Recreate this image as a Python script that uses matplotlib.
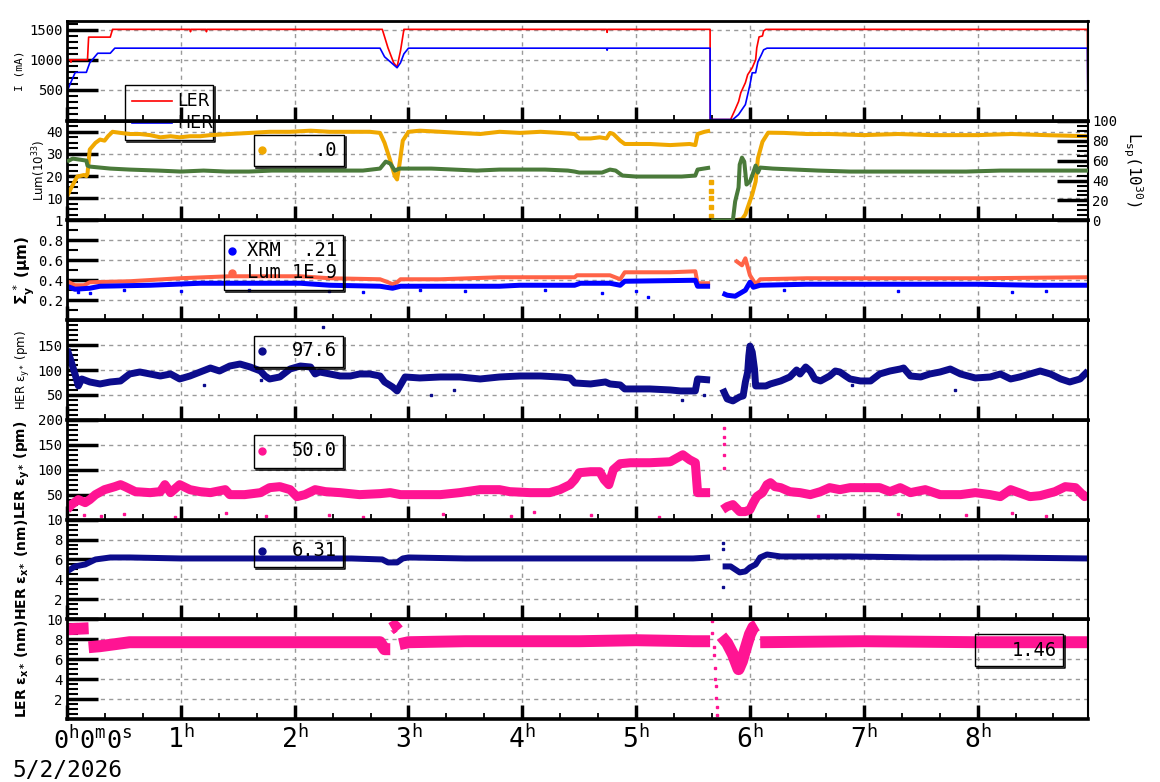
import numpy as np
import matplotlib
matplotlib.use('Agg')
import matplotlib.pyplot as plt
from matplotlib.ticker import MultipleLocator, FixedLocator
from matplotlib.patches import Rectangle
from matplotlib.lines import Line2D

plt.rcParams['mathtext.fontset'] = 'custom'
plt.rcParams['mathtext.rm'] = 'DejaVu Sans Mono'
plt.rcParams['mathtext.it'] = 'DejaVu Sans Mono:italic'
plt.rcParams['mathtext.bf'] = 'DejaVu Sans:bold'
plt.rcParams['mathtext.sf'] = 'DejaVu Sans'
MONO = 'DejaVu Sans Mono'
SANS = 'DejaVu Sans'
nan = np.nan

# ---------------- data ----------------
hours = [0, 1, 2, 3, 4, 5, 6, 7, 8]
hour_labels = ['', r'$1^{\mathrm{h}}$', r'$2^{\mathrm{h}}$', r'$3^{\mathrm{h}}$', r'$4^{\mathrm{h}}$',
               r'$5^{\mathrm{h}}$', r'$6^{\mathrm{h}}$', r'$7^{\mathrm{h}}$', r'$8^{\mathrm{h}}$']
first_label = r'$0^{\mathrm{h}}0^{\mathrm{m}}0^{\mathrm{s}}$'
date_text = '5/2/2026'

# panel 1 : beam currents (mA)
t_ler_I = [0, 0.03, 0.035, 0.04, 0.18, 0.19, 0.38, 0.40, 1.08, 1.085, 1.09, 1.22, 1.225, 1.23,
           2.77, 2.82, 2.87, 2.90, 2.93, 2.96, 4.74, 4.745, 4.75, 5.65, 5.651, 5.83, 5.87, 5.90,
           5.92, 5.96, 5.98, 6.02, 6.05, 6.06, 6.08, 6.11, 6.12, 6.14, 8.965, 8.97]
v_ler_I = [1000, 1000, 960, 1000, 1000, 1380, 1380, 1510, 1510, 1470, 1510, 1510, 1470, 1510,
           1510, 1200, 950, 880, 1150, 1510, 1510, 1460, 1510, 1510, 0, 0, 167, 300,
           450, 617, 750, 867, 1000, 1200, 1383, 1400, 1483, 1510, 1510, 0]
t_her_I = [0, 0.02, 0.07, 0.08, 0.17, 0.20, 0.27, 0.38, 0.42, 2.75, 2.79, 2.84, 2.90, 2.93, 2.96,
           3.00, 4.74, 4.745, 4.75, 5.65, 5.651, 5.85, 5.90, 5.93, 5.96, 5.98, 6.00, 6.02, 6.05,
           6.07, 6.10, 6.12, 6.15, 8.965, 8.97]
v_her_I = [470, 560, 780, 790, 790, 950, 1110, 1110, 1195, 1195, 1050, 967, 867, 950, 1100,
           1195, 1195, 1160, 1195, 1195, 0, 0, 83, 167, 250, 417, 583, 783, 783,
           967, 1083, 1167, 1195, 1195, 0]

# panel 2 : luminosity (1e33) left, specific luminosity (1e30) right
t_lum = [0, 0.04, 0.09, 0.15, 0.17, 0.18, 0.20, 0.25, 0.29, 0.33,
         0.36, 0.40, 0.47, 0.55, 0.64, 0.73, 0.82, 0.91, 0.99, 1.08,
         1.17, 1.26, 1.43, 1.61, 1.78, 1.96, 2.14, 2.31, 2.49, 2.66,
         2.75, 2.79, 2.84, 2.88, 2.90, 2.92, 2.95, 3.00, 3.10, 3.28,
         3.45, 3.63, 3.80, 3.98, 4.16, 4.33, 4.46, 4.50, 4.60, 4.68,
         4.74, 4.77, 4.80, 4.86, 4.90, 5.12, 5.30, 5.47, 5.52, 5.54,
         5.60, 5.65, nan, 5.85, 5.93, 5.96, 5.98, 6.02, 6.05, 6.07,
         6.11, 6.16, 6.30, 6.50, 6.70, 7.00, 7.30, 7.60, 8.00, 8.30,
         8.60, 8.97]
v_lum = [10.8, 15, 19.8, 20.5, 20, 21, 32, 35, 36.5, 36,
         38, 40, 39.5, 39, 39, 38.5, 37.5, 38, 37.5, 38,
         38, 38.5, 39, 39.5, 40, 40, 40.5, 40, 40, 40,
         39.5, 35, 27, 20, 18.5, 25, 36, 40, 40.5, 40,
         39.5, 39, 40, 39.5, 40, 39.5, 39, 37, 37, 37.5,
         37, 39.5, 39, 36, 34.5, 34.5, 34, 34.5, 34, 39,
         40, 40.5, nan, 0, 0.5, 2.7, 5.8, 11.7, 17.5, 28,
         35.5, 39.6, 39.5, 39, 39, 38.5, 39, 38.5, 38.5, 39,
         38.5, 38]
t_lum_drop = [5.66, 5.66, 5.66, 5.66, 5.66]
v_lum_drop = [17.5, 13.5, 9.9, 5.9, 1.8]
t_lsp = [0, 0.05, 0.17, 0.18, 0.20, 0.38, 0.55, 0.80, 1.00, 1.20,
         1.40, 1.60, 1.80, 2.00, 2.20, 2.40, 2.60, 2.75, 2.80, 2.84,
         2.88, 2.92, 3.00, 3.20, 3.40, 3.60, 3.80, 4.00, 4.20, 4.40,
         4.46, 4.50, 4.70, 4.77, 4.82, 4.88, 5.00, 5.20, 5.40, 5.52,
         5.54, 5.65, nan, 5.66, 5.85, 5.87, 5.90, 5.91, 5.93, 5.95,
         5.97, 6.00, 6.02, 6.05, 6.07, 6.09, 6.20, 6.40, 6.60, 6.88,
         7.00, 7.30, 7.60, 7.90, 8.20, 8.50, 8.97]
v_lsp = [59, 62, 60, 55, 54, 52, 51, 50, 49, 50,
         49, 49, 50, 50, 50, 50, 50, 52, 59, 57,
         50, 52, 52, 52, 51, 50, 51, 51, 51, 50,
         49, 48, 48, 51, 50, 45, 44, 44, 44, 45,
         51, 53, nan, 0, 0, 19, 33, 56, 63, 59,
         36, 39, 45, 55, 48, 53, 52, 51, 50, 49,
         49, 49, 49, 49, 50, 50, 50]

# panel 3 : vertical beam size (um)
t_sig_lum = [0, 0.07, 0.15, 0.20, 0.55, 0.99, 1.43, 1.87, 2.05, 2.31,
             2.75, 2.82, 2.86, 2.90, 2.93, 3.28, 3.80, 4.46, 4.48, 4.77,
             4.86, 4.90, 5.30, 5.52, 5.54, 5.65, nan, 5.87, 5.93, 5.96,
             6.00, 6.05, 6.09, 6.50, 7.00, 8.00, 8.97]
v_sig_lum = [0.39, 0.35, 0.35, 0.38, 0.39, 0.42, 0.44, 0.44, 0.44, 0.42,
             0.41, 0.38, 0.36, 0.38, 0.41, 0.41, 0.43, 0.43, 0.45, 0.45,
             0.41, 0.48, 0.48, 0.49, 0.37, 0.37, nan, 0.60, 0.55, 0.62,
             0.45, 0.36, 0.41, 0.42, 0.42, 0.42, 0.43]
t_sig_xrm = [0, 0.07, 0.20, 0.29, 0.73, 1.17, 2.05, 2.31, 2.75, 2.86,
             2.93, 3.80, 3.98, 4.46, 4.51, 4.77, 4.86, 4.90, 5.52, 5.54,
             5.65, nan, 5.76, 5.80, 5.87, 5.93, 5.96, 6.00, 6.03, 6.09,
             6.50, 7.00, 7.50, 8.00, 8.50, 8.97]
v_sig_xrm = [0.34, 0.31, 0.32, 0.34, 0.35, 0.37, 0.37, 0.35, 0.34, 0.32,
             0.34, 0.34, 0.35, 0.35, 0.37, 0.37, 0.35, 0.39, 0.40, 0.34,
             0.34, nan, 0.27, 0.25, 0.24, 0.28, 0.30, 0.38, 0.33, 0.35,
             0.36, 0.36, 0.36, 0.36, 0.35, 0.35]
t_xrm_out = [0.1, 0.2, 0.5, 1.0, 1.6, 2.3, 2.6, 3.1, 3.5, 4.2, 4.7, 5.0, 5.1, 6.3, 7.3, 8.3, 8.6]
v_xrm_out = [0.28, 0.27, 0.30, 0.29, 0.30, 0.29, 0.28, 0.30, 0.29, 0.30, 0.27, 0.29, 0.23, 0.30, 0.29, 0.28, 0.29]

# panel 4 : HER vertical emittance (pm)
t_her_ey = [0, 0.03, 0.07, 0.10, 0.13, 0.20, 0.29, 0.38, 0.47, 0.55,
            0.64, 0.73, 0.82, 0.91, 0.99, 1.08, 1.17, 1.26, 1.34, 1.43,
            1.52, 1.61, 1.70, 1.74, 1.78, 1.87, 1.96, 2.05, 2.14, 2.18,
            2.22, 2.31, 2.40, 2.49, 2.57, 2.66, 2.75, 2.79, 2.86, 2.90,
            2.93, 2.97, 3.10, 3.28, 3.45, 3.63, 3.80, 3.98, 4.16, 4.33,
            4.42, 4.46, 4.60, 4.73, 4.77, 4.86, 4.90, 5.12, 5.30, 5.39,
            5.52, 5.54, 5.65, nan, 5.76, 5.80, 5.85, 5.91, 5.94, 5.96,
            5.98, 5.99, 6.00, 6.02, 6.04, 6.05, 6.09, 6.14, 6.18, 6.27,
            6.35, 6.41, 6.44, 6.49, 6.53, 6.57, 6.62, 6.70, 6.75, 6.79,
            6.84, 6.88, 6.97, 7.06, 7.14, 7.23, 7.32, 7.35, 7.41, 7.50,
            7.58, 7.67, 7.76, 7.85, 7.98, 8.11, 8.20, 8.29, 8.37, 8.46,
            8.55, 8.64, 8.73, 8.81, 8.90, 8.97]
v_her_ey = [142, 122, 92, 68, 82, 76, 72, 76, 78, 92,
            96, 92, 88, 92, 82, 88, 96, 104, 98, 108,
            112, 106, 98, 88, 82, 86, 102, 108, 106, 92,
            96, 92, 88, 88, 92, 92, 88, 76, 66, 58,
            70, 86, 84, 86, 86, 82, 86, 88, 88, 86,
            84, 74, 72, 76, 72, 70, 62, 62, 60, 58,
            58, 82, 80, nan, 62, 42, 38, 46, 48, 76,
            96, 128, 148, 136, 102, 68, 68, 68, 72, 78,
            86, 100, 92, 106, 98, 82, 78, 88, 98, 96,
            88, 82, 78, 78, 92, 98, 102, 104, 88, 86,
            92, 96, 102, 92, 84, 86, 92, 82, 86, 92,
            98, 92, 82, 76, 82, 98]
t_her_ey_out = [1.2, 1.7, 2.25, 3.2, 3.4, 5.4, 5.6, 6.9, 7.8]
v_her_ey_out = [70, 80, 186, 50, 60, 40, 50, 70, 60]

# panel 5 : LER vertical emittance (pm)
t_ler_ey = [0, 0.04, 0.10, 0.16, 0.20, 0.25, 0.33, 0.42, 0.47, 0.51,
            0.60, 0.73, 0.82, 0.86, 0.91, 0.99, 1.08, 1.17, 1.26, 1.39,
            1.43, 1.56, 1.70, 1.78, 1.87, 1.96, 2.02, 2.09, 2.18, 2.27,
            2.40, 2.57, 2.75, 2.84, 2.93, 3.10, 3.28, 3.45, 3.63, 3.80,
            3.89, 4.07, 4.24, 4.33, 4.42, 4.46, 4.50, 4.60, 4.68, 4.72,
            4.76, 4.80, 4.86, 4.95, 5.12, 5.30, 5.41, 5.47, 5.52, 5.54,
            5.65, nan, 5.76, 5.80, 5.85, 5.91, 5.96, 6.00, 6.03, 6.06,
            6.11, 6.15, 6.18, 6.22, 6.27, 6.35, 6.44, 6.53, 6.62, 6.70,
            6.79, 6.88, 6.97, 7.06, 7.14, 7.23, 7.32, 7.41, 7.54, 7.67,
            7.76, 7.85, 7.98, 8.11, 8.20, 8.29, 8.46, 8.55, 8.68, 8.77,
            8.86, 8.94, 8.97]
v_ler_ey = [20, 30, 40, 34, 40, 50, 60, 66, 70, 66,
            56, 54, 56, 70, 54, 70, 60, 56, 54, 60,
            50, 50, 54, 64, 66, 60, 46, 50, 60, 56,
            54, 50, 52, 54, 50, 50, 50, 54, 60, 60,
            56, 54, 54, 60, 70, 80, 94, 96, 96, 80,
            70, 100, 112, 114, 114, 116, 130, 120, 114, 54,
            54, nan, 20, 26, 30, 16, 16, 20, 34, 46,
            54, 70, 74, 66, 64, 56, 54, 50, 56, 64,
            60, 64, 64, 64, 64, 56, 64, 54, 60, 50,
            50, 50, 54, 50, 46, 60, 46, 48, 56, 66,
            64, 46, 50]
t_ler_ey_out = [0.15, 0.3, 0.5, 0.95, 1.4, 1.75, 2.3, 2.6, 3.3, 3.9, 4.1, 4.6, 5.2,
                5.77, 5.77, 5.77, 5.77, 5.77, 6.6, 7.3, 7.9, 8.3, 8.6]
v_ler_ey_out = [10, 8, 12, 5, 14, 8, 10, 6, 12, 8, 15, 10, 6,
                184, 166, 152, 130, 104, 8, 12, 10, 14, 8]

# panel 6 : HER horizontal emittance (nm)
t_her_ex = [0, 0.07, 0.16, 0.25, 0.38, 0.55, 1.0, 1.5, 2.0, 2.5,
            2.77, 2.82, 2.90, 2.95, 3.0, 3.5, 4.0, 4.5, 5.0, 5.5,
            5.65, nan, 5.76, 5.83, 5.91, 5.96, 6.00, 6.05, 6.09, 6.15,
            6.27, 6.88, 7.5, 8.2, 8.97]
v_her_ex = [4.8, 5.3, 5.5, 6.0, 6.2, 6.2, 6.1, 6.1, 6.1, 6.1,
            6.0, 5.7, 5.7, 6.1, 6.2, 6.1, 6.1, 6.1, 6.1, 6.1,
            6.2, nan, 5.3, 5.3, 4.7, 4.8, 5.2, 5.5, 6.2, 6.5,
            6.3, 6.3, 6.2, 6.2, 6.1]
t_her_ex_out = [5.76, 5.76, 5.76]
v_her_ex_out = [7.7, 7.0, 3.2]

# panel 7 : LER horizontal emittance (nm)
t_ler_ex = [0, 0.19, nan, 0.19, 0.29, 0.55, 1.0, 1.5, 2.0, 2.5,
            2.75, 2.79, 2.84, nan, 2.85, 2.88, 2.91, nan, 2.92, 3.0,
            3.5, 4.0, 4.5, 5.0, 5.5, 5.65, nan, 5.75, 5.80, 5.85,
            5.90, 5.93, 5.96, 6.00, 6.03, 6.06, nan, 6.09, 7.0, 8.0,
            8.97]
v_ler_ex = [9.0, 9.1, nan, 7.2, 7.3, 7.7, 7.7, 7.7, 7.7, 7.7,
            7.7, 7.0, 7.0, nan, 9.1, 9.3, 8.9, nan, 7.5, 7.7,
            7.8, 7.8, 7.8, 7.9, 7.8, 7.8, nan, 8.3, 7.6, 6.5,
            5.0, 5.8, 7.0, 8.5, 9.2, 9.4, nan, 7.7, 7.8, 7.7,
            7.7]
t_ler_ex_out = [5.67, 5.67, 5.68, 5.68, 5.69, 5.69, 5.70, 5.70, 5.71, 5.71]
v_ler_ex_out = [9.8, 8.6, 7.2, 6.4, 5.1, 4.0, 3.3, 2.1, 1.2, 0.4]

# legend texts
leg_lum = '.0'
leg_sig = ['XRM  .21', 'Lum 1E-9']
leg_her_ey = '97.6'
leg_ler_ey = '50.0'
leg_her_ex = '6.31'
leg_ler_ex = '1.46'

# ---------------- colors ----------------
RED = '#ff0000'
BLUE = '#0000ff'
YEL = '#f0a800'
GRN = '#4a7a3a'
TOM = '#ff6347'
NAVY = '#0c0c8c'
PINK = '#ff1493'
GRID = '#9a9a9a'

# ---------------- figure ----------------
W, H = 1160, 782
fig = plt.figure(figsize=(W / 100, H / 100), dpi=100)
L, R = 67, 1088
TOP, BOT = 21, 719
NP = 7
ph = (BOT - TOP) / NP
XMAX = 8.97


def fx(x):
    return x / W


def fy(y):
    return 1 - y / H


axes = []
for i in range(NP):
    y0 = TOP + i * ph
    ax = fig.add_axes([fx(L), fy(y0 + ph), (R - L) / W, ph / H])
    ax.patch.set_alpha(0)
    ax.set_xlim(0, XMAX)
    ax.xaxis.set_major_locator(FixedLocator(hours))
    ax.xaxis.set_minor_locator(MultipleLocator(1 / 3))
    ax.tick_params(axis='x', which='major', direction='in', length=10, width=2.5, top=False)
    ax.tick_params(axis='x', which='minor', direction='in', length=4, width=1.3, top=False)
    ax.tick_params(axis='y', which='major', direction='in', length=22, width=2.5, right=False,
                   labelsize=10, pad=3)
    ax.tick_params(axis='y', which='minor', direction='in', length=8, width=1.5, right=False)
    ax.grid(True, which='major', axis='both', color=GRID, ls=(0, (3, 3)), lw=1)
    ax.spines['bottom'].set_linewidth(2.6)
    ax.spines['top'].set_linewidth(2.0)
    ax.spines['left'].set_linewidth(2.0)
    ax.spines['right'].set_linewidth(1.5)
    if i < NP - 1:
        ax.tick_params(axis='x', labelbottom=False)
    axes.append(ax)

ax1, ax2, ax3, ax4, ax5, ax6, ax7 = axes


def yticks(ax, ticks, labels, minor_step):
    ax.set_yticks(ticks)
    ax.set_yticklabels(labels, family=MONO, fontsize=10)
    ax.yaxis.set_minor_locator(MultipleLocator(minor_step))


def box(ax, x0, y0, x1, y1):
    # thin frame with a small shadow on the right and bottom edges
    r = Rectangle((fx(x0), fy(y1)), (x1 - x0) / W, (y1 - y0) / H,
                  transform=fig.transFigure, fill=False, ec='black', lw=1.0, clip_on=False, zorder=6)
    ax.add_artist(r)
    ax.add_artist(Line2D([fx(x1 + 1.5), fx(x1 + 1.5), fx(x0 + 2)], [fy(y0 + 2), fy(y1 + 1.5), fy(y1 + 1.5)],
                         transform=fig.transFigure, color='black', lw=1.1, clip_on=False, zorder=6))


def dot(ax, x, y, color):
    ax.add_artist(Line2D([fx(x)], [fy(y)], transform=fig.transFigure, marker='o', ms=5,
                         color=color, ls='none', clip_on=False, zorder=7))


def ltext(ax, x, y, s, ha='right', family=MONO, size=13.5):
    ax.text(fx(x), fy(y), s, transform=fig.transFigure, ha=ha, va='center', family=family,
            fontsize=size, color='black', zorder=7, clip_on=False)


# ---- panel 1
ax1.plot(t_ler_I, v_ler_I, color=RED, lw=1.2)
ax1.plot(t_her_I, v_her_I, color=BLUE, lw=1.2)
ax1.set_ylim(-20, 1650)
yticks(ax1, [500, 1000, 1500], ['500', '1000', '1500'], 100)
box(ax1, 125, 85, 213, 140)
ax1.add_artist(Line2D([fx(132), fx(172)], [fy(101), fy(101)], transform=fig.transFigure,
                      color=RED, lw=1.2, clip_on=False, zorder=7))
ax1.add_artist(Line2D([fx(132), fx(172)], [fy(123), fy(123)], transform=fig.transFigure,
                      color=BLUE, lw=1.2, clip_on=False, zorder=7))
ltext(ax1, 177, 101, 'LER', ha='left', family=SANS, size=12.5)
ltext(ax1, 177, 123, 'HER', ha='left', family=SANS, size=12.5)

# ---- panel 2
ax2.plot(t_lum, v_lum, color=YEL, lw=2.9, solid_capstyle='butt')
ax2.plot(t_lum_drop, v_lum_drop, color=YEL, ls='none', marker='s', ms=2.2)
ax2.set_ylim(0, 45)
yticks(ax2, [10, 20, 30, 40], ['10', '20', '30', '40'], 2.5)
ax2r = ax2.twinx()
ax2r.patch.set_alpha(0)
ax2r.plot(t_lsp, v_lsp, color=GRN, lw=2.9, solid_capstyle='butt')
ax2r.set_ylim(0, 100)
ax2r.set_xlim(0, XMAX)
ax2r.set_yticks([0, 20, 40, 60, 80, 100])
ax2r.set_yticklabels(['0', '20', '40', '60', '80', '100'], family=MONO, fontsize=10)
ax2r.yaxis.set_minor_locator(MultipleLocator(5))
ax2r.tick_params(axis='y', which='major', direction='in', length=22, width=2.5, pad=3)
ax2r.tick_params(axis='y', which='minor', direction='in', length=8, width=1.5)
for s in ax2r.spines.values():
    s.set_visible(False)
box(ax2, 254, 135, 344, 166)
dot(ax2, 262, 150, YEL)
ltext(ax2, 337, 151, leg_lum)
fig.text(fx(1133), fy(169), r'L$_{\mathrm{sp}}$(10$^{30}$)', rotation=-90, ha='center', va='center',
         family=MONO, fontsize=11.5)

# ---- panel 3
ax3.plot(t_sig_lum, v_sig_lum, color=TOM, lw=2.9, solid_capstyle='butt')
ax3.plot(t_sig_xrm, v_sig_xrm, color=BLUE, lw=3.6, solid_capstyle='butt')
ax3.plot(t_xrm_out, v_xrm_out, color=BLUE, ls='none', marker='s', ms=2)
ax3.set_ylim(0, 1)
yticks(ax3, [0.2, 0.4, 0.6, 0.8, 1.0], ['0.2', '0.4', '0.6', '0.8', '1'], 0.1)
box(ax3, 224, 235, 343, 290)
dot(ax3, 232, 251, BLUE)
dot(ax3, 232, 273, TOM)
ltext(ax3, 337, 251, leg_sig[0])
ltext(ax3, 337, 273, leg_sig[1])

# ---- panel 4
ax4.plot(t_her_ey, v_her_ey, color=NAVY, lw=5, solid_capstyle='butt')
ax4.plot(t_her_ey_out, v_her_ey_out, color=NAVY, ls='none', marker='s', ms=2)
ax4.set_ylim(0, 200)
yticks(ax4, [50, 100, 150], ['50', '100', '150'], 10)
box(ax4, 254, 336, 343, 367)
dot(ax4, 262, 351, NAVY)
ltext(ax4, 337, 351, leg_her_ey)

# ---- panel 5
ax5.plot(t_ler_ey, v_ler_ey, color=PINK, lw=6.5, solid_capstyle='butt')
ax5.plot(t_ler_ey_out, v_ler_ey_out, color=PINK, ls='none', marker='s', ms=2)
ax5.set_ylim(0, 200)
yticks(ax5, [50, 100, 150, 200], ['50', '100', '150', '200'], 10)
box(ax5, 254, 435, 343, 468)
dot(ax5, 262, 451, PINK)
ltext(ax5, 337, 451, leg_ler_ey)

# ---- panel 6
ax6.plot(t_her_ex, v_her_ex, color=NAVY, lw=4.3, solid_capstyle='butt')
ax6.plot(t_her_ex_out, v_her_ex_out, color=NAVY, ls='none', marker='s', ms=2)
ax6.set_ylim(0, 10)
yticks(ax6, [2, 4, 6, 8, 10], ['2', '4', '6', '8', '10'], 0.5)
box(ax6, 254, 536, 343, 567)
dot(ax6, 262, 551, NAVY)
ltext(ax6, 337, 551, leg_her_ex)

# ---- panel 7
ax7.plot(t_ler_ex, v_ler_ex, color=PINK, lw=8.6, solid_capstyle='butt')
ax7.plot(t_ler_ex_out, v_ler_ex_out, color=PINK, ls='none', marker='s', ms=2)
ax7.set_ylim(0, 10)
yticks(ax7, [2, 4, 6, 8, 10], ['2', '4', '6', '8', '10'], 0.5)
box(ax7, 975, 634, 1063, 666)
ltext(ax7, 1057, 650, leg_ler_ex)

# x tick labels on bottom panel
ax7.set_xticks(hours)
ax7.set_xticklabels(hour_labels, fontsize=19)
ax7.tick_params(axis='x', which='major', pad=5)
fig.text(fx(53), fy(726), first_label, ha='left', va='top', fontsize=18)
fig.text(fx(12), fy(777), date_text, ha='left', va='baseline', family=MONO, fontsize=16.5)

# y-axis labels
panel_c = [TOP + (i + 0.5) * ph for i in range(NP)]
fig.text(fx(20), fy(panel_c[0]), 'I (mA)', rotation=90, ha='center', va='center', family=MONO, fontsize=8)
fig.text(fx(39), fy(panel_c[1]), r'Lum(10$^{33}$)', rotation=90, ha='center', va='center', family=SANS, fontsize=8.5)
fig.text(fx(24), fy(panel_c[2]), r'Σ$_{\mathbf{y}}^{\ *}$ (μm)', rotation=90, ha='center', va='center',
         family=SANS, fontsize=11, fontweight='bold')
fig.text(fx(23), fy(panel_c[3]), r'HER ε$_{\mathrm{y*}}$ (pm)', rotation=90, ha='center', va='center',
         family=SANS, fontsize=8.5)
fig.text(fx(22), fy(panel_c[4]), r'LER ε$_{\mathbf{y*}}$ (pm)', rotation=90, ha='center', va='center',
         family=SANS, fontsize=10, fontweight='bold')
fig.text(fx(22), fy(panel_c[5]), r'HER ε$_{\mathbf{x*}}$ (nm)', rotation=90, ha='center', va='center',
         family=SANS, fontsize=10, fontweight='bold')
fig.text(fx(22), fy(panel_c[6]), r'LER ε$_{\mathbf{x*}}$ (nm)', rotation=90, ha='center', va='center',
         family=SANS, fontsize=10, fontweight='bold')

fig.savefig('out.png', dpi=100)
